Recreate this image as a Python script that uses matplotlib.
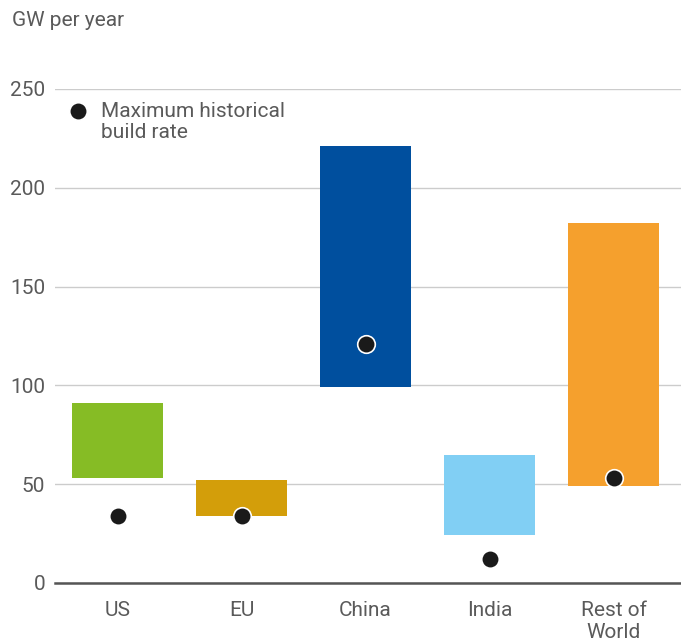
import numpy as np
import matplotlib
matplotlib.use('Agg')
import matplotlib.pyplot as plt

plt.rcParams['font.family'] = ['Roboto', 'DejaVu Sans']

# Build rate ranges (GW per year)
regions = ['US', 'EU', 'China', 'India', 'Rest of\nWorld']
low = [53, 34, 99, 24.5, 49]
high = [91, 52, 221, 65, 182]
max_hist = [34, 34, 121, 12, 53]
colors = ['#86BC25', '#D39E0A', '#004F9E', '#81CFF4', '#F5A02D']

TXT = '#5a5a5a'

fig = plt.figure(figsize=(6.81, 6.42), dpi=100)
ax = fig.add_axes([55/681, 1 - 583/642, 626/681, (583 - 89)/642])

x = np.arange(len(regions))
ax.bar(x, np.array(high) - np.array(low), bottom=low, width=0.734,
       color=colors, zorder=2)
ax.scatter(x, max_hist, s=160, color='#1a1a1a', edgecolor='white',
           linewidth=1.2, zorder=3)

ax.set_xlim(-0.504, 4.544)
ax.set_ylim(0, 250)
ax.set_yticks([0, 50, 100, 150, 200, 250])
ax.set_xticks(x)
ax.set_xticklabels(regions)
ax.yaxis.grid(True, color='#cccccc', linewidth=1, zorder=0)
for sp in ['top', 'right', 'left']:
    ax.spines[sp].set_visible(False)
ax.spines['bottom'].set_color('#555555')
ax.spines['bottom'].set_linewidth(1.8)
ax.spines['bottom'].set_zorder(4)
ax.tick_params(axis='both', length=0, labelsize=15, labelcolor=TXT)
ax.tick_params(axis='y', pad=7)
ax.tick_params(axis='x', pad=13)
for lab in ax.get_xticklabels():
    lab.set_linespacing(1.2)

fig.text(12/681, 1 - 20/642, 'GW per year', fontsize=15, color=TXT,
         va='center', ha='left')

# legend
ax.scatter([-0.32], [239], s=160, color='#1a1a1a', edgecolor='white',
           linewidth=1.2, clip_on=False, zorder=3)
fig.text(101/681, 1 - 102/642, 'Maximum historical\nbuild rate', fontsize=15,
         color=TXT, va='top', ha='left', linespacing=1.15)

fig.savefig('out.png', dpi=100)
